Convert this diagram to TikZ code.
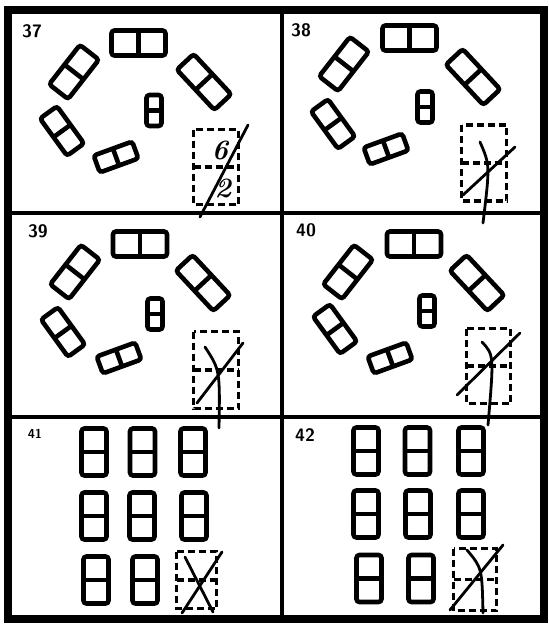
\documentclass[tikz,border=0pt]{standalone}
\usetikzlibrary{arrows.meta}
\tikzset{
  tilebox/.style={line width=4.6pt,rounded corners=3pt},
  ghostbox/.style={line width=3.6pt,dash pattern=on 7pt off 4pt},
  strokeline/.style={line width=2.8pt,line cap=round},
  tag/.style={font=\fontsize{18}{18}\sffamily\bfseries,inner sep=0pt},
  hand/.style={font=\fontsize{28}{28}\bfseries\itshape,inner sep=0pt}
}
\newcommand{\dominotile}[5]{\begin{scope}[shift={(#1,#2)},rotate=#3]\draw[tilebox] (-#4/2,-#5/2) rectangle (#4/2,#5/2);\draw[tilebox] (0,-#5/2)--(0,#5/2);\end{scope}}
\newcommand{\ghosttile}[4]{\begin{scope}[shift={(#1,#2)}]\draw[ghostbox] (-#3/2,-#4/2) rectangle (#3/2,#4/2);\draw[ghostbox] (-#3/2,0)--(#3/2,0);\end{scope}}

\begin{document}
\begin{tikzpicture}[x=1pt,y=-1pt]
\useasboundingbox (0,0) rectangle (549,624);
\draw[line width=8.5pt] (8,10) rectangle (544,619);
\draw[line width=3.2pt] (282,10)--(282,619);
\draw[line width=3.2pt] (8,213)--(544,213);
\draw[line width=3.2pt] (8,417)--(544,417);
\node[tag] (p37) at (32,31) {37};
\node[tag] (p38) at (301,30) {38};
\node[tag] (p39) at (38,231) {39};
\node[tag] (p40) at (306,230) {40};
\node[tag,font=\fontsize{13}{13}\sffamily\bfseries] (p41) at (35,434) {41};
\node[tag] (p42) at (305,435) {42};
\dominotile{138.5}{43}{0}{54}{25}
\dominotile{74}{72}{52}{50}{24}
\dominotile{204}{82}{-47}{55}{23}
\dominotile{154}{110.5}{90}{31}{15}
\dominotile{62}{131}{-54}{46}{21}
\dominotile{116}{157}{20}{41}{18}
\ghosttile{216}{167}{45}{75}
\node[hand] (six) at (220,150) {6};
\node[hand] (two) at (223,188) {2};
\draw[strokeline] (248,125)--(200,217);
\dominotile{409.5}{38}{0}{54}{25}
\dominotile{344}{64}{52}{50}{24}
\dominotile{473}{77}{-47}{55}{23}
\dominotile{425}{107}{90}{31}{15}
\dominotile{333}{124}{-54}{46}{21}
\dominotile{386}{149}{20}{41}{18}
\ghosttile{484}{163}{45}{76}
\draw[strokeline] (463,195)--(515,147);
\draw[strokeline] (480,142) .. controls (490,165) .. (483,223);
\dominotile{140}{244}{0}{54}{25}
\dominotile{75}{272}{52}{50}{24}
\dominotile{203}{283}{-47}{55}{23}
\dominotile{155}{314}{90}{31}{15}
\dominotile{63}{332}{-54}{46}{21}
\dominotile{119}{358}{20}{41}{18}
\ghosttile{216}{370}{45}{77}
\draw[strokeline] (197,403)--(243,343);
\draw[strokeline] (205,347) .. controls (220,370) .. (219,428);
\dominotile{414}{244}{0}{54}{25}
\dominotile{348}{272}{52}{50}{24}
\dominotile{477}{283}{-47}{55}{23}
\dominotile{427}{311}{90}{31}{15}
\dominotile{335}{329}{-54}{46}{21}
\dominotile{390}{358}{20}{41}{18}
\ghosttile{488.5}{366}{44}{75}
\draw[strokeline] (457,395)--(520,333);
\draw[strokeline] (482,342) .. controls (494,355) .. (488,425);
\dominotile{94}{452}{90}{47}{25}
\dominotile{142.5}{452}{90}{47}{25}
\dominotile{193}{452}{90}{47}{25}
\dominotile{94}{516}{90}{47}{25}
\dominotile{142}{516}{90}{47}{25}
\dominotile{194}{516}{90}{47}{25}
\dominotile{96}{580}{90}{47}{25}
\dominotile{145}{580}{90}{47}{25}
\ghosttile{196.5}{580}{40}{57}
\draw[strokeline] (185,557)--(213,612);
\draw[strokeline] (222,552)--(182,613);
\dominotile{366}{451}{90}{47}{25}
\dominotile{417.5}{451}{90}{47}{25}
\dominotile{471}{451}{90}{47}{25}
\dominotile{366}{514}{90}{47}{25}
\dominotile{418}{514}{90}{47}{25}
\dominotile{471}{514}{90}{47}{25}
\dominotile{369}{578.5}{90}{47}{25}
\dominotile{421}{578.5}{90}{47}{25}
\ghosttile{475}{579.5}{43}{62}
\draw[strokeline] (450,610)--(503,545);
\draw[strokeline] (467,550) .. controls (482,568) .. (483,613);
\end{tikzpicture}
\end{document}
